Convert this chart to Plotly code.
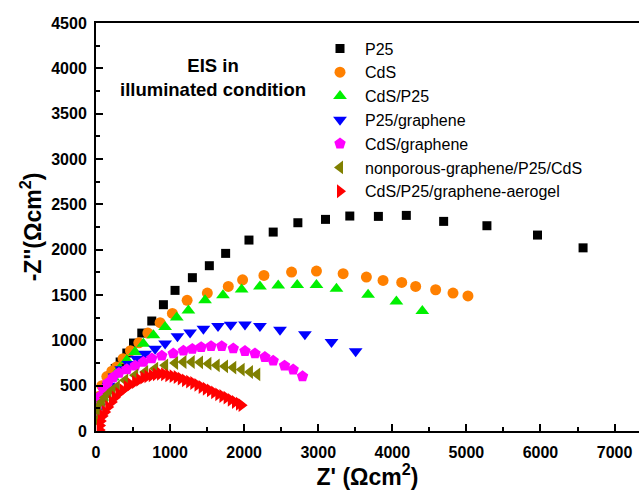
import plotly.graph_objects as go

# Nyquist data, Z' and -Z'' in ohm*cm^2
p25_x = [20, 60, 120, 200, 260, 326, 416, 506, 618, 753, 910, 1067, 1301, 1530, 1750,
         2065, 2392, 2725, 3098, 3426, 3812, 4189, 4693, 5277, 5960, 6575]
p25_y = [250, 380, 500, 610, 690, 761, 860, 970, 1080, 1213, 1393, 1551, 1691, 1823, 1959,
         2106, 2194, 2297, 2334, 2371, 2367, 2378, 2312, 2264, 2161, 2020]

cds_x = [12, 34, 79, 146, 214, 278, 365, 465, 578, 700, 865, 1031, 1230, 1503, 1786,
         1979, 2267, 2640, 2976, 3336, 3650, 3875, 4127, 4315, 4585, 4819, 5021]
cds_y = [250, 380, 500, 600, 660, 706, 798, 885, 972, 1080, 1195, 1297, 1441, 1521, 1595,
         1668, 1716, 1753, 1764, 1735, 1698, 1661, 1639, 1595, 1558, 1521, 1490]

cdsp25_x = [12, 40, 85, 150, 230, 320, 416, 528, 640, 775, 933, 1090, 1247, 1472, 1714,
            1966, 2213, 2460, 2716, 2976, 3246, 3673, 4055, 4405]
cdsp25_y = [150, 260, 370, 480, 590, 690, 779, 871, 963, 1055, 1147, 1253, 1330, 1441, 1496,
            1562, 1595, 1606, 1610, 1610, 1569, 1503, 1429, 1323]

p25g_x = [15, 45, 100, 170, 250, 340, 440, 551, 663, 798, 933, 1100, 1270, 1450, 1647,
          1818, 2011, 2213, 2484, 2820, 3179, 3505]
p25g_y = [150, 270, 390, 500, 600, 680, 740, 798, 853, 908, 966, 1045, 1086, 1128, 1157,
          1172, 1176, 1157, 1117, 1066, 981, 880]

cdsg_x = [10, 25, 55, 100, 160, 230, 310, 416, 530, 640, 753, 888, 1043, 1180, 1300,
          1420, 1553, 1697, 1853, 2011, 2146, 2280, 2392, 2545, 2662, 2788]
cdsg_y = [200, 290, 380, 460, 530, 590, 640, 680, 720, 761, 800, 830, 855, 885, 905,
          925, 936, 936, 910, 882, 855, 815, 775, 720, 677, 603]

npg_x = [3, 12, 30, 79, 120, 169, 220, 281, 393, 528, 663, 798, 933, 1067, 1180, 1292,
         1404, 1517, 1629, 1741, 1853, 1966, 2078, 2177]
npg_y = [120, 228, 270, 320, 370, 412, 450, 485, 559, 614, 651, 688, 724, 750, 761, 761,
         757, 743, 724, 713, 699, 677, 651, 625]

aero_x = [50, 55, 65, 90, 124, 165, 214, 255, 304, 360, 416, 470, 528, 585, 640, 695,
          753, 810, 865, 920, 977, 1035, 1090, 1145, 1202, 1258, 1314, 1370, 1427, 1483,
          1539, 1595, 1651, 1707, 1763, 1820, 1876, 1930, 1966]
aero_y = [10, 60, 110, 165, 210, 265, 320, 370, 412, 450, 485, 515, 540, 565, 588, 603,
          614, 625, 632, 626, 614, 605, 596, 578, 559, 545, 530, 508, 485, 466,
          448, 426, 404, 386, 368, 344, 320, 300, 285]

series = [
    ("P25", p25_x, p25_y, "square", "#000000", 9),
    ("CdS", cds_x, cds_y, "circle", "#FF8000", 11),
    ("CdS/P25", cdsp25_x, cdsp25_y, "triangle-up", "#00F000", 12),
    ("P25/graphene", p25g_x, p25g_y, "triangle-down", "#0000FF", 12),
    ("CdS/graphene", cdsg_x, cdsg_y, "pentagon", "#FF00FF", 12),
    ("nonporous-graphene/P25/CdS", npg_x, npg_y, "triangle-left", "#808000", 12),
    ("CdS/P25/graphene-aerogel", aero_x, aero_y, "triangle-right", "#FF0000", 12),
]

fig = go.Figure()
for name, xs, ys, sym, col, sz in series:
    fig.add_trace(go.Scatter(
        x=xs, y=ys, mode="markers", name=name,
        marker=dict(symbol=sym, color=col, size=sz, line=dict(width=0)),
    ))

FONT = "Liberation Sans, Arial, sans-serif"
L, T, B = 96, 23, 59.3
PW, PH = 639 - L, 490 - T - B

fig.update_layout(
    width=639, height=490,
    margin=dict(l=L, r=0, t=T, b=B, autoexpand=False),
    paper_bgcolor="white", plot_bgcolor="white",
    font=dict(family=FONT, color="black"),
    showlegend=True,
    legend=dict(
        x=(315 - L) / PW, y=(490 - B - 31.5) / PH, xanchor="left", yanchor="top",
        bgcolor="rgba(0,0,0,0)", borderwidth=0,
        font=dict(family=FONT, size=16, color="black"),
        itemwidth=40, tracegroupgap=0,
    ),
    xaxis=dict(
        range=[0, 7330], showgrid=False, zeroline=False, automargin=False,
        showline=True, linecolor="black", linewidth=2, mirror=True,
        ticks="inside", ticklen=7, tickwidth=1.5, tickcolor="black",
        tick0=0, dtick=1000,
        minor=dict(ticks="inside", ticklen=4, tickwidth=1.5, tickcolor="black", dtick=500),
        tickfont=dict(family=FONT, size=16, weight="bold"),
        ticklabelstandoff=6,
        title=dict(text="Z' (Ωcm<sup>2</sup>)", font=dict(family=FONT, size=23, weight="bold"),
                   standoff=1),
    ),
    yaxis=dict(
        range=[0, 4500], showgrid=False, zeroline=False, automargin=False,
        showline=True, linecolor="black", linewidth=2, mirror=False,
        ticks="inside", ticklen=7, tickwidth=1.5, tickcolor="black",
        tick0=0, dtick=500,
        minor=dict(ticks="inside", ticklen=4, tickwidth=1.5, tickcolor="black", dtick=250),
        tickfont=dict(family=FONT, size=16, weight="bold"),
        ticklabelstandoff=4,
        title=dict(text="-Z''(Ωcm<sup>2</sup>)", font=dict(family=FONT, size=23, weight="bold"),
                   standoff=3),
    ),
    annotations=[dict(
        text="EIS in<br>illuminated condition",
        xref="paper", yref="paper", x=(213 - L) / PW, y=(490 - B - 77) / PH,
        xanchor="center", yanchor="middle", showarrow=False, align="center",
        font=dict(family=FONT, size=18.5, weight="bold", color="black"),
    )],
)

fig.write_html("out.html")
